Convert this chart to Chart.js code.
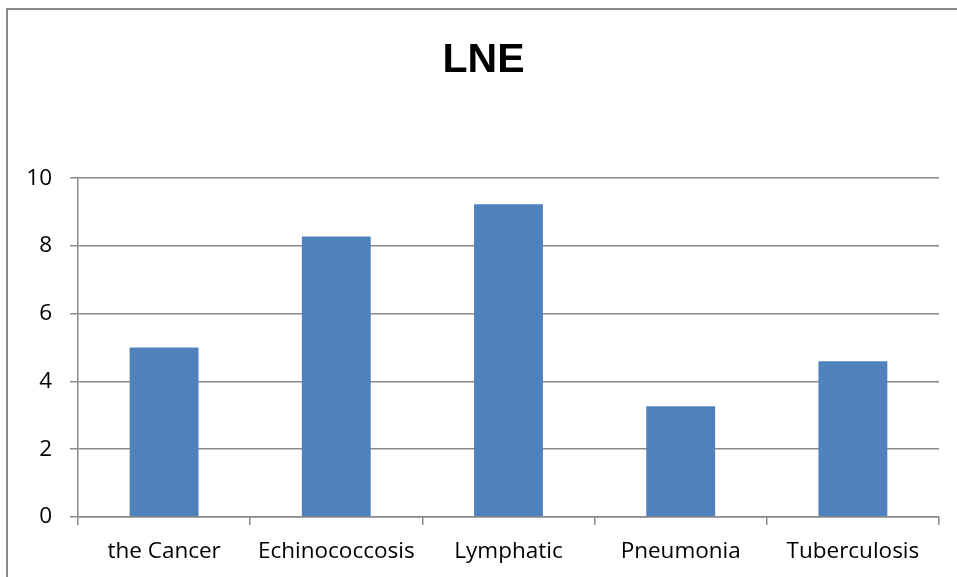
<!DOCTYPE html>
<html>
<head>
<meta charset="utf-8">
<script src="https://cdn.jsdelivr.net/npm/chart.js@4/dist/chart.umd.min.js"></script>
<style>
  html, body { margin: 0; padding: 0; background: #ffffff; }
  #wrap { position: relative; width: 957px; height: 577px; overflow: hidden; }
  #frame { position: absolute; left: 6px; top: 8px; width: 1000px; height: 600px;
           border-left: 2px solid #8a8a8a; border-top: 2px solid #8a8a8a; box-sizing: border-box; }
  canvas { position: absolute; left: 0; top: 0; }
</style>
</head>
<body>
<div id="wrap">
  <div id="frame"></div>
  <canvas id="chart" width="957" height="577"></canvas>
</div>
<script>
// Categories and measured values for the LNE series
const categories = ["the Cancer", "Echinococcosis", "Lymphatic", "Pneumonia", "Tuberculosis"];
const lneValues = [5.0, 8.28, 9.23, 3.27, 4.6];
const yTicks = [0, 2, 4, 6, 8, 10];

const axisGray = "#8a8a8a";
const labelFont = { family: "'Open Sans', 'Liberation Sans', sans-serif", size: 22.5 };

// Centre the title over the whole frame rather than the padded layout box
const titleShift = {
  id: "titleShift",
  afterLayout(chart) {
    const tb = chart.titleBlock;
    if (tb) { tb.left += 14; tb.right += 14; }
  }
};

new Chart(document.getElementById("chart"), {
  type: "bar",
  data: {
    labels: categories,
    datasets: [{
      label: "LNE",
      data: lneValues,
      backgroundColor: "#4f81bd",
      borderWidth: 0,
      categoryPercentage: 1.0,
      barPercentage: 0.4
    }]
  },
  plugins: [titleShift],
  options: {
    responsive: false,
    animation: false,
    layout: { padding: { left: 0, right: 18, top: 0, bottom: 0 } },
    plugins: {
      legend: { display: false },
      tooltip: { enabled: false },
      title: {
        display: true,
        text: "LNE",
        color: "#000000",
        font: { family: "'Liberation Sans', 'Open Sans', sans-serif", size: 41, weight: "bold", lineHeight: 1.2 },
        padding: { top: 36, bottom: 93 }
      }
    },
    scales: {
      x: {
        grid: {
          display: true,
          offset: true,
          drawOnChartArea: false,
          drawTicks: true,
          tickLength: 8,
          color: axisGray,
          lineWidth: 1.5
        },
        border: { display: true, color: axisGray, width: 1.5 },
        ticks: { color: "#000000", font: labelFont, padding: 13, maxRotation: 0, autoSkip: false },
        afterFit: (scale) => { scale.height = 60; }
      },
      y: {
        min: 0,
        max: 10,
        afterBuildTicks: (scale) => { scale.ticks = yTicks.map(v => ({ value: v })); },
        grid: {
          color: axisGray,
          lineWidth: 1.5,
          drawTicks: true,
          tickLength: 8
        },
        border: { display: true, color: axisGray, width: 1.5 },
        ticks: { color: "#000000", font: labelFont, padding: 18 },
        afterFit: (scale) => { scale.width = 78; }
      }
    }
  }
});
</script>
</body>
</html>
